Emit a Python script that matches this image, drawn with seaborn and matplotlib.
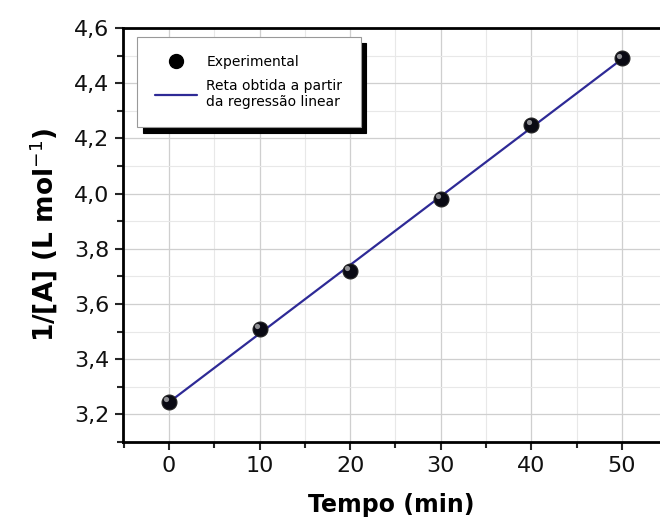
import numpy as np
import pandas as pd
import matplotlib
matplotlib.use("Agg")
import matplotlib.pyplot as plt
import seaborn as sns
from matplotlib.ticker import MultipleLocator, FuncFormatter
from matplotlib.lines import Line2D

tempo = [0, 10, 20, 30, 40, 50]
inv_A = [3.245, 3.51, 3.72, 3.98, 4.25, 4.49]
x_label = "Tempo (min)"
y_label = "1/[A] (L mol$^{-1}$)"
legend_labels = ["Experimental", "Reta obtida a partir\nda regressão linear"]

df = pd.DataFrame({"t": tempo, "y": inv_A})

sns.set_style("white")
plt.rcParams['font.family'] = ['DejaVu Sans']

fig = plt.figure(figsize=(6.6, 5.28), dpi=100)
ax = fig.add_axes([123 / 660, 86 / 528, 537 / 660, 414 / 528])

line_color = "#2e2a96"
sns.regplot(data=df, x="t", y="y", ax=ax, ci=None, truncate=True,
            scatter=False, line_kws=dict(color=line_color, lw=1.6, zorder=2))
sns.scatterplot(data=df, x="t", y="y", ax=ax, s=115, color="#0a0a14",
                edgecolor="#222222", linewidth=0.8, zorder=3, legend=False)
# highlight on spheres
ax.scatter(np.array(tempo) - 0.3, np.array(inv_A) + 0.01, s=14, color="white",
           alpha=0.55, zorder=4, linewidths=0)

ax.set_xlim(-5.08, 54.2)
ax.set_ylim(3.1, 4.6)
ax.xaxis.set_major_locator(MultipleLocator(10))
ax.xaxis.set_minor_locator(MultipleLocator(5))
ax.yaxis.set_major_locator(MultipleLocator(0.2))
ax.yaxis.set_minor_locator(MultipleLocator(0.1))
ax.yaxis.set_major_formatter(FuncFormatter(lambda v, p: f"{v:.1f}".replace(".", ",")))

ax.grid(True, which="major", color="#cfcfcf", lw=0.9)
ax.grid(True, which="minor", color="#e8e8e8", lw=0.8)
ax.set_axisbelow(True)

for s in ["left", "bottom", "top"]:
    ax.spines[s].set_linewidth(2)
    ax.spines[s].set_color("black")
ax.spines["right"].set_visible(False)

ax.tick_params(which="major", direction="out", length=6, width=1.5,
               labelsize=16, labelcolor="#111111", bottom=True, left=True, pad=4)
ax.tick_params(which="minor", direction="out", length=4, width=1.5,
               bottom=True, left=True)

ax.set_xlabel(x_label, fontsize=17, fontweight="bold", labelpad=12, color="black")
ax.set_ylabel(y_label, fontsize=19, fontweight="bold", labelpad=10, color="black")

handles = [Line2D([], [], marker="o", ls="", color="black", markersize=10),
           Line2D([], [], color=line_color, lw=1.6)]
leg = ax.legend(handles, legend_labels, loc="upper left",
                bbox_to_anchor=((137 - 123) / 537, (442 - 37) / 414),
                frameon=True, fancybox=False,
                shadow={"color": "black", "alpha": 1, "ox": 4, "oy": -4},
                fontsize=10, borderpad=1.3, labelspacing=0.7, handlelength=3.0,
                handletextpad=0.7, borderaxespad=0, edgecolor="#999999",
                framealpha=1)
leg.get_frame().set_linewidth(0.8)
for t in leg.get_texts():
    t.set_color("black")

fig.savefig("out.png", dpi=100)
